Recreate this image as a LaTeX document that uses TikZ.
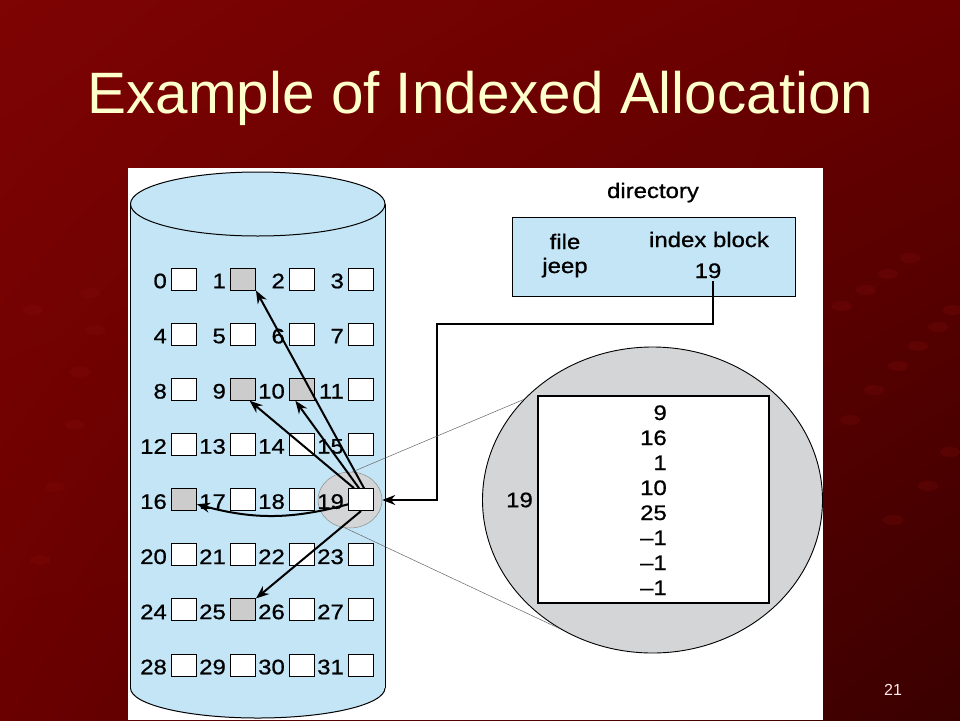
\documentclass[tikz,border=0pt]{standalone}
\usepackage{fontspec}
\setmainfont{Liberation Sans}
\newfontfamily\figfont[FakeStretch=1.14, FakeBold=0.8]{Liberation Sans}
\usetikzlibrary{shapes.geometric}
\usetikzlibrary{arrows.meta}
\usetikzlibrary{shadings}
\definecolor{slideUL}{RGB}{126,3,3}
\definecolor{slideUR}{RGB}{104,0,0}
\definecolor{slideLL}{RGB}{106,0,0}
\definecolor{slideLR}{RGB}{58,0,0}
\definecolor{speckred}{RGB}{140,18,18}
\definecolor{titlecream}{RGB}{255,255,204}
\definecolor{diskblue}{RGB}{195,229,246}
\definecolor{blockgray}{RGB}{204,204,204}
\definecolor{zoomgray}{RGB}{212,213,215}
\tikzset{
block/.style={ % one disk block
draw, line width=0.9pt, fill=white,
minimum width=25pt, minimum height=22pt, inner sep=0pt},
alloc1/.style={fill=blockgray}, alloc9/.style={fill=blockgray}, % blocks of jeep
alloc10/.style={fill=blockgray}, alloc16/.style={fill=blockgray},
alloc25/.style={fill=blockgray},
figtext/.style={font=\figfont\fontsize{21}{23}\selectfont, inner sep=0pt},
every label/.style={figtext, inner sep=4pt, yshift=-2pt},
disk/.style={draw, line width=1pt},
ptr/.style={draw, line width=2pt, -{Stealth[length=13pt, width=10pt]}},
thinline/.style={draw=black!60, line width=0.5pt},
speck/.style={fill=speckred, opacity=0.22}}
\begin{document}
\begin{tikzpicture}[x=1pt, y=-1pt]
% slide background
\useasboundingbox (0,0) rectangle (960,720);
\shade[upper left=slideUL, upper right=slideUR, lower left=slideLL, lower right=slideLR] (0,0) rectangle (960,720);
\foreach \x/\y in {910/258, 888/274, 866/290, 842/306, 953/310, 938/327, 918/346, 898/366, 874/390, 850/420,
  950/452, 928/486, 893/520, 90/293, 33/310, 95/330, 80/372, 75/425, 55/487, 40/560}
  \fill[speck] (\x,\y) ellipse [x radius=10, y radius=5];
\node[font=\fontsize{58.4}{70}\selectfont, text=titlecream, anchor=base] (title) at (480.5,113) {Example of Indexed Allocation};
\node[font=\fontsize{16}{18}\selectfont, text=white!92!red] (pageno) at (893,690) {21};
% figure panel and disk
\fill[white] (128,168) rectangle (823,720);
\fill[diskblue] (130.5,204) rectangle (385,688);
\fill[diskblue] (257.75,688) ellipse [x radius=127.25, y radius=30];
\draw[disk] (130.5,204) -- (130.5,688) (385,204) -- (385,688);
\begin{scope}
\clip (120,688) rectangle (400,720);
\draw[disk] (257.75,688) ellipse [x radius=127.25, y radius=30];
\end{scope}
\draw[disk, fill=diskblue] (257.75,204) ellipse [x radius=127.25, y radius=32];
\node[ellipse, fill=zoomgray, draw=black!45, line width=0.5pt, minimum width=64pt, minimum height=56pt] (spot) at (350,500) {};
\foreach \n in {0,...,31}{
  \pgfmathtruncatemacro\kcol{mod(\n,4)}
  \pgfmathtruncatemacro\krow{\n/4}
  \node[block, alloc\n/.try, label=left:\n] (b\n) at (184+59*\kcol, 279+55.15*\krow) {};
}
\draw ([xshift=-7pt]b19.north) edge[ptr] (b9.-60)
      ([xshift=-2pt]b19.north) edge[ptr] (b10.-120)
      ([xshift=3pt]b19.north) edge[ptr] (b1.south east)
      (b19.-160) edge[ptr, bend left=15] (b16.-20)
      (b19.south) edge[ptr] (b25.north east);
% directory
\node[figtext, anchor=base] (dirname) at (653,198) {directory};
\node[draw, line width=1pt, fill=diskblue, minimum width=283pt, minimum height=79pt] (dir) at (653.5,256.5) {};
\node[figtext, anchor=base] (fname) at (565,249) {file};
\node[figtext, anchor=base] (jeep) at (565,273) {jeep};
\node[figtext, anchor=base] (ihead) at (709,247) {index block};
\node[figtext, anchor=base, inner sep=3pt] (inum) at (708,278) {19};
\coordinate (turn) at (437,324);
\draw[ptr] ([xshift=5pt]inum.south) |- (turn) |- (spot.east);
% index block blown up
\node[ellipse, draw, line width=0.9pt, fill=zoomgray, minimum width=340pt, minimum height=306pt, inner sep=0pt] (view) at (652.5,500) {};
\node[draw, line width=1.3pt, fill=white, minimum width=231pt, minimum height=207pt] (iblk) at (653.5,499.5) {};
\foreach \v [count=\k from 0] in {9,16,1,10,25,–1,–1,–1}
  \node[figtext, anchor=base east] (e\k) at (667,420+25*\k) {\v};
\node[figtext] (vlabel) at (519.5,500) {19};
\draw[thinline] (spot.85) -- (view.142);
\draw[thinline] (spot.-100) -- (view.-126);
\end{tikzpicture}
\end{document}
